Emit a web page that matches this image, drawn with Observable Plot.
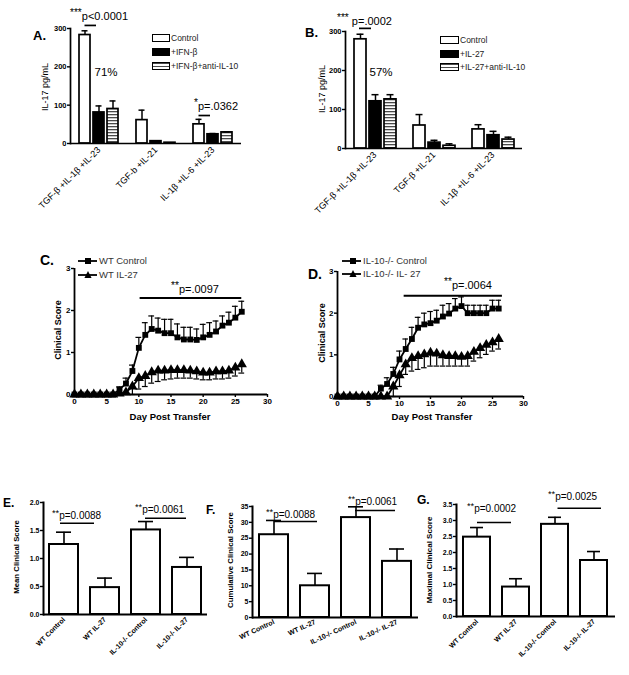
<!DOCTYPE html>
<html><head><meta charset="utf-8">
<script src="https://cdn.jsdelivr.net/npm/d3@7"></script>
<script src="https://cdn.jsdelivr.net/npm/@observablehq/plot@0.6"></script>
<style>
body{margin:0;background:#fff;font-family:"Liberation Sans",Arial,sans-serif;}
#page{position:relative;width:629px;height:675px;overflow:hidden;background:#fff;}
.abs{position:absolute;white-space:nowrap;line-height:1;color:#000;}
.ytitle{position:absolute;white-space:nowrap;line-height:1;transform:translate(-50%,-50%) rotate(-90deg);}
.sw{position:absolute;box-sizing:border-box;border:1.5px solid #000;}
</style></head><body>
<svg width="0" height="0" style="position:absolute"><defs>
<pattern id="hstripes" patternUnits="userSpaceOnUse" width="6" height="3"><rect width="6" height="3" fill="#fff"/><rect width="6" height="1.3" fill="#4a4a4a"/></pattern>
</defs></svg>
<div id="page"></div>
<script>
// ---------- DATA ----------
// Panel A
const groupsA = ["TGF-β +IL-1β +IL-23", "TGF-b +IL-21", "IL-1β +IL-6 +IL-23"];
const seriesA = ["Control", "+IFN-β", "+IFN-β+anti-IL-10"];
const controlA = [283, 61, 50];
const ifnA = [81, 6, 24];
const ifnAntiA = [90, 2, 29];
const controlASem = [11, 26, 13];
const ifnASem = [17, 1, 2];
const ifnAntiASem = [21, 0, 1];
// Panel B
const groupsB = ["TGF-β +IL-1β +IL-23", "TGF-β +IL-21", "IL-1β +IL-6 +IL-23"];
const seriesB = ["Control", "+IL-27", "+IL-27+anti-IL-10"];
const controlB = [280, 59, 49];
const il27B = [121, 15, 34];
const il27AntiB = [126, 7, 23];
const controlBSem = [13, 28, 12];
const il27BSem = [17, 6, 10];
const il27AntiBSem = [12, 5, 6];
// Panels C, D
const days = [0,1,2,3,4,5,6,7,8,9,10,11,12,13,14,15,16,17,18,19,20,21,22,23,24,25,26];
const wtControl = [0,0,0,0,0,0,0,0.12,0.26,0.56,1.11,1.42,1.56,1.52,1.46,1.46,1.36,1.31,1.31,1.30,1.36,1.42,1.50,1.64,1.71,1.83,1.97];
const wtControlSem = [0,0,0,0,0,0,0,0.06,0.13,0.14,0.25,0.29,0.31,0.30,0.33,0.33,0.32,0.29,0.29,0.26,0.31,0.29,0.25,0.23,0.25,0.27,0.25];
const wtIL27 = [0,0,0,0,0,0,0,0.02,0.05,0.19,0.39,0.44,0.53,0.57,0.57,0.58,0.58,0.58,0.57,0.55,0.52,0.52,0.55,0.55,0.57,0.64,0.72];
const wtIL27Sem = [0,0,0,0,0,0,0,0.02,0.05,0.19,0.26,0.25,0.26,0.26,0.22,0.21,0.19,0.19,0.18,0.18,0.17,0.17,0.18,0.18,0.18,0.20,0.21];
const koControl = [0,0,0,0,0,0,0,0.19,0.30,0.54,0.89,1.14,1.38,1.65,1.73,1.76,1.82,1.92,1.99,2.11,2.17,2.00,2.00,2.00,2.00,2.11,2.11];
const koControlSem = [0,0,0,0,0,0,0,0.08,0.15,0.16,0.20,0.24,0.28,0.25,0.27,0.28,0.25,0.27,0.24,0.24,0.22,0.19,0.19,0.19,0.19,0.20,0.20];
const koIL27 = [0,0,0,0,0,0,0,0,0,0.24,0.51,0.77,0.92,0.97,1.01,1.05,1.03,0.99,0.97,0.97,0.95,0.97,1.07,1.16,1.24,1.30,1.38];
const koIL27Sem = [0,0,0,0,0,0,0,0,0,0.24,0.27,0.24,0.31,0.32,0.32,0.32,0.30,0.26,0.24,0.24,0.22,0.24,0.22,0.23,0.23,0.21,0.24];
const legendC = ["WT Control", "WT IL-27"];
const legendD = ["IL-10-/- Control", "IL-10-/- IL- 27"];
// Panels E, F, G
const groupsEFG = ["WT Control", "WT IL-27", "IL-10-/- Control", "IL-10-/- IL-27"];
const meanScore = [1.25, 0.48, 1.51, 0.84];
const meanScoreSem = [0.22, 0.17, 0.15, 0.18];
const cumScore = [26.1, 10.0, 31.5, 17.7];
const cumScoreSem = [4.5, 3.9, 3.4, 3.9];
const maxScore = [2.48, 0.92, 2.88, 1.75];
const maxScoreSem = [0.30, 0.26, 0.22, 0.28];
// Significance bars (data units)
const sigA = [{group: groupsA[0], x1: seriesA[0], x2: seriesA[1], y: 308}, {group: groupsA[2], x1: seriesA[0], x2: seriesA[1], y: 73}];
const sigB = [{group: groupsB[0], x1: seriesB[0], x2: seriesB[1], y: 308}];
const sigC = [{x1: 10.2, x2: 26, y: 2.3}];
const sigD = [{x1: 10.75, x2: 26.6, y: 2.42}];
const sigE = [{x1: groupsEFG[0], x2: groupsEFG[1], y: 1.63}, {x1: groupsEFG[2], x2: groupsEFG[3], y: 1.72}];
const sigF = [{x1: groupsEFG[0], x2: groupsEFG[1], y: 30.3}, {x1: groupsEFG[2], x2: groupsEFG[3], y: 33.7}];
const sigG = [{x1: groupsEFG[0], x2: groupsEFG[1], y: 2.94}, {x1: groupsEFG[2], x2: groupsEFG[3], y: 3.38}];

// ---------- HELPERS ----------
const FONT = "'Liberation Sans', Arial, sans-serif";
const page = document.getElementById("page");
function place(svg, ox, oy){ svg.style.position="absolute"; svg.style.left=ox+"px"; svg.style.top=oy+"px"; page.appendChild(svg); }
function addText(html, x, cy, size, opts={}){
  const el = document.createElement("div");
  el.className = "abs"; el.innerHTML = html;
  el.style.fontSize = size+"px"; el.style.left = x+"px"; el.style.top = (cy - size/2)+"px";
  if (opts.anchor === "middle") el.style.transform = "translateX(-50%)";
  el.style.fontWeight = opts.weight || "normal"; el.style.color = opts.color || "#000";
  page.appendChild(el);
}
function addYTitle(text, cx, cy, size, weight){
  const el = document.createElement("div");
  el.className = "ytitle"; el.textContent = text;
  el.style.fontSize = size+"px"; el.style.left = cx+"px"; el.style.top = cy+"px"; el.style.fontWeight = weight || "normal";
  page.appendChild(el);
}
const stars = (s) => `<span style="font-size:0.92em;position:relative;top:-0.3em">${s}</span>`;

// ---------- BAR PANELS A / B ----------
function groupedPanel(cfg){
  const {groups, series, cols, sems, ox, oy, L, T, R, B, mr, mb, sig, sigInset} = cfg;
  const rows = groups.flatMap((g,i) => series.map((s,j) => ({group: g, series: s, value: cols[j][i], sem: sems[j][i]})));
  const fills = ["#fff", "#000", "url(#hstripes)"];
  const err = rows.filter(d => d.sem > 0);
  const chart = Plot.plot({
    width: R - ox + mr, height: B - oy + mb,
    marginLeft: L - ox, marginTop: T - oy, marginRight: mr, marginBottom: mb,
    style: {fontFamily: FONT, background: "transparent", overflow: "visible"},
    fx: {domain: groups, padding: 0},
    x: {domain: series, paddingInner: 0.22, paddingOuter: 0.55, axis: null},
    y: {domain: [0, 300]},
    marks: [
      ...series.map((s,j) => Plot.barY(rows, {filter: d => d.series === s, fx: "group", x: "series", y: "value", fill: fills[j], stroke: "#000", strokeWidth: 1.7})),
      Plot.ruleX(err, {fx: "group", x: "series", y1: "value", y2: d => d.value + d.sem, strokeWidth: 1.5}),
      Plot.tickY(err, {fx: "group", x: "series", y: d => d.value + d.sem, inset: 2.5, strokeWidth: 1.5}),
      Plot.ruleY([0], {strokeWidth: 1.7}),
      Plot.frame({anchor: "left", facetAnchor: "left", strokeWidth: 1.7}),
      Plot.ruleY(sig, {fx: "group", x1: "x1", x2: "x2", y: "y", insetLeft: sigInset[0], insetRight: sigInset[1], strokeWidth: 1.7}),
      Plot.axisY({ticks: [0,100,200,300], tickFormat: d3.format("d"), tickSize: 3, tickPadding: 1, fontSize: 7.5, fontWeight: "bold", label: null, strokeWidth: 1.4}),
      Plot.axisFx({anchor: "bottom", tickRotate: -45, tickSize: 0, tickPadding: 5, fontSize: 9, label: null})
    ]
  });
  place(chart, ox, oy);
}

groupedPanel({groups: groupsA, series: seriesA, cols: [controlA, ifnA, ifnAntiA], sems: [controlASem, ifnASem, ifnAntiASem],
  ox: 0, oy: 0, L: 69, T: 28, R: 242, B: 143, mr: 8, mb: 95, sig: sigA, sigInset: [5.5, 8]});
groupedPanel({groups: groupsB, series: seriesB, cols: [controlB, il27B, il27AntiB], sems: [controlBSem, il27BSem, il27AntiBSem],
  ox: 300, oy: 0, L: 345, T: 31, R: 522, B: 148, mr: 8, mb: 95, sig: sigB, sigInset: [5, 10]});

// legends A/B
function barLegend(labels, x, ys, w){
  const bgs = ["#fff", "#000", "repeating-linear-gradient(to bottom,#4a4a4a 0 1.2px,#fff 1.2px 3px)"];
  labels.forEach((lab,i) => {
    const sw = document.createElement("div"); sw.className = "sw";
    sw.style.left = x+"px"; sw.style.top = (ys[i]-4)+"px"; sw.style.width = w+"px"; sw.style.height = "8px"; sw.style.background = bgs[i];
    page.appendChild(sw);
    addText(lab, x + w + 1, ys[i], 8.5, {color: "#222"});
  });
}
barLegend(seriesA, 152, [38, 52, 66], 18);
barLegend(seriesB, 440, [40, 54, 67], 19);

addText(stars("***") + "p&lt;0.0001", 70, 16, 11);
addText("71%", 106, 73, 11.5, {anchor: "middle"});
addText(stars("*") + "p=.0362", 194, 106, 11);
addText(stars("***") + " p=.0002", 337, 21, 11);
addText("57%", 381, 73, 11.5, {anchor: "middle"});
addYTitle("IL-17 pg/mL", 45, 87, 9);
addYTitle("IL-17 pg/mL", 322, 89, 9);

// ---------- LINE PANELS C / D ----------
function linePanel(cfg){
  const {ctrl, ctrlSem, trt, trtSem, ox, oy, L, T, R, B, mr, mb, sig} = cfg;
  const rc = days.map((d,i) => ({day: d, v: ctrl[i], e: ctrl[i] + ctrlSem[i], s: ctrlSem[i]}));
  const rt = days.map((d,i) => ({day: d, v: trt[i], e: trt[i] - trtSem[i], s: trtSem[i]}));
  const ec = rc.filter(d => d.s > 0), et = rt.filter(d => d.s > 0);
  const capW = 0.45;
  const chart = Plot.plot({
    width: R - ox + mr, height: B - oy + mb,
    marginLeft: L - ox, marginTop: T - oy, marginRight: mr, marginBottom: mb,
    style: {fontFamily: FONT, background: "transparent", overflow: "visible"},
    x: {domain: [0, 30]}, y: {domain: [0, 3]},
    marks: [
      Plot.ruleX(ec, {x: "day", y1: "v", y2: "e", strokeWidth: 1.2}),
      Plot.ruleY(ec, {x1: d => d.day - capW, x2: d => d.day + capW, y: "e", strokeWidth: 1.2}),
      Plot.ruleX(et, {x: "day", y1: "v", y2: "e", strokeWidth: 1.2}),
      Plot.ruleY(et, {x1: d => d.day - capW, x2: d => d.day + capW, y: "e", strokeWidth: 1.2}),
      Plot.line(rc, {x: "day", y: "v", strokeWidth: 1.8}),
      Plot.line(rt, {x: "day", y: "v", strokeWidth: 1.8}),
      Plot.dot(rc, {x: "day", y: "v", symbol: "square", r: 3.3, fill: "#000", stroke: "none"}),
      Plot.dot(rt, {x: "day", y: "v", symbol: "triangle", r: 3.8, fill: "#000", stroke: "none"}),
      Plot.ruleX([0], {strokeWidth: 1.8}),
      Plot.ruleY([0], {strokeWidth: 1.8}),
      Plot.ruleY(sig, {x1: "x1", x2: "x2", y: "y", strokeWidth: 2}),
      Plot.axisX({ticks: [0,5,10,15,20,25,30], tickFormat: d3.format("d"), tickSize: 3, tickPadding: 1, fontSize: 8, fontWeight: "bold", label: null, strokeWidth: 1.4}),
      Plot.axisY({ticks: [0,1,2,3], tickFormat: d3.format("d"), tickSize: 3, tickPadding: 1, fontSize: 8, fontWeight: "bold", label: null, strokeWidth: 1.4})
    ]
  });
  place(chart, ox, oy);
}
linePanel({ctrl: wtControl, ctrlSem: wtControlSem, trt: wtIL27, trtSem: wtIL27Sem, ox: 0, oy: 245, L: 74, T: 268, R: 267, B: 394, mr: 10, mb: 30, sig: sigC});
linePanel({ctrl: koControl, ctrlSem: koControlSem, trt: koIL27, trtSem: koIL27Sem, ox: 300, oy: 245, L: 337, T: 271, R: 523, B: 396, mr: 10, mb: 30, sig: sigD});

function lineLegend(labels, x0, x1, mx, ys){
  const shapes = [
    `<rect x="${mx-3}" y="4" width="6" height="6" fill="#000"/>`,
    `<path d="M${mx},3 L${mx+3.6},10 L${mx-3.6},10 Z" fill="#000"/>`
  ];
  labels.forEach((lab,i) => {
    const svg = document.createElementNS("http://www.w3.org/2000/svg","svg");
    svg.setAttribute("width", x1 - x0 + 2); svg.setAttribute("height", 14);
    svg.style.position = "absolute"; svg.style.left = x0+"px"; svg.style.top = (ys[i]-7)+"px";
    svg.innerHTML = `<line x1="0" x2="${x1-x0}" y1="7" y2="7" stroke="#000" stroke-width="1.8"/>` + shapes[i];
    page.appendChild(svg);
    addText(lab, x1 + 2, ys[i], 9.5, {color: "#333"});
  });
}
lineLegend(legendC, 78, 97, 10, [261, 275]);
lineLegend(legendD, 342, 361, 11, [261, 274]);
addText(stars("**") + "p=.0097", 195, 289, 11, {anchor: "middle"});
addText(stars("**") + "p=.0064", 468, 285, 11, {anchor: "middle"});
addYTitle("Clinical Score", 58, 330, 9, "bold");
addYTitle("Clinical Score", 322, 333, 9, "bold");
addText("Day Post Transfer", 170, 417, 9.5, {anchor: "middle", weight: "bold"});
addText("Day Post Transfer", 432, 417, 9.5, {anchor: "middle", weight: "bold"});

// ---------- SCORE PANELS E / F / G ----------
function scorePanel(cfg){
  const {vals, sems, ox, oy, L, T, R, B, mr, mb, ymax, yticks, fmt, rotate, sig, insets} = cfg;
  const rows = groupsEFG.map((g,i) => ({cat: g, v: vals[i], e: vals[i] + sems[i]}));
  const chart = Plot.plot({
    width: R - ox + mr, height: B - oy + mb,
    marginLeft: L - ox, marginTop: T - oy, marginRight: mr, marginBottom: mb,
    style: {fontFamily: FONT, background: "transparent", overflow: "visible"},
    x: {domain: groupsEFG, paddingInner: 0.3, paddingOuter: 0.15},
    y: {domain: [0, ymax]},
    marks: [
      Plot.ruleX(rows, {x: "cat", y1: "v", y2: "e", strokeWidth: 1.6}),
      Plot.tickY(rows, {x: "cat", y: "e", inset: 7, strokeWidth: 1.6}),
      Plot.barY(rows, {x: "cat", y: "v", fill: "#fff", stroke: "#000", strokeWidth: 2}),
      Plot.ruleY([0], {strokeWidth: 2}),
      Plot.frame({anchor: "left", strokeWidth: 2}),
      ...sig.map((s,i) => Plot.ruleY([s], {x1: "x1", x2: "x2", y: "y", insetLeft: insets[i][0], insetRight: insets[i][1], strokeWidth: 1.5})),
      Plot.axisY({ticks: yticks, tickFormat: fmt, tickSize: 3, tickPadding: 1, fontSize: 7, fontWeight: "bold", label: null, strokeWidth: 1.4}),
      Plot.axisX({tickRotate: rotate, tickSize: 0, tickPadding: 4, fontSize: 7, fontWeight: "bold", label: null})
    ]
  });
  place(chart, ox, oy);
}
scorePanel({vals: meanScore, sems: meanScoreSem, ox: 0, oy: 480, L: 43, T: 502, R: 207, B: 614, mr: 4, mb: 58,
  ymax: 2, yticks: [0,0.5,1,1.5,2], fmt: d3.format(".1f"), rotate: -45, sig: sigE, insets: [[11,25],[14,15]]});
scorePanel({vals: cumScore, sems: cumScoreSem, ox: 210, oy: 480, L: 252, T: 506, R: 418, B: 617, mr: 4, mb: 55,
  ymax: 35, yticks: [0,5,10,15,20,25,30,35], fmt: d3.format("d"), rotate: -25, sig: sigF, insets: [[15,12],[14,16]]});
scorePanel({vals: maxScore, sems: maxScoreSem, ox: 415, oy: 480, L: 456, T: 504, R: 615, B: 616, mr: 4, mb: 58,
  ymax: 3.5, yticks: [0,0.5,1,1.5,2,2.5,3,3.5], fmt: d3.format(".1f"), rotate: -45, sig: sigG, insets: [[14,18],[16.5,6]]});

addText(stars("**") + "p=0.0088", 52, 516, 10);
addText(stars("**") + "p=0.0061", 135, 510, 10);
addText(stars("**") + "p=0.0088", 266, 515, 10);
addText(stars("**") + "p=0.0061", 348, 502, 10);
addText(stars("**") + "p=0.0002", 467, 509, 10);
addText(stars("**") + "p=0.0025", 548, 497, 10);
addYTitle("Mean Clinical Score", 17, 557, 7.8, "bold");
addYTitle("Cumulative Clinical Score", 231, 560, 7.8, "bold");
addYTitle("Maximal Clinical Score", 430, 560, 8, "bold");

// ---------- PANEL LETTERS ----------
addText("A.", 33, 35, 13, {weight: "bold"});
addText("B.", 305, 32, 13, {weight: "bold"});
addText("C.", 40, 260, 14, {weight: "bold"});
addText("D.", 308, 274, 14, {weight: "bold"});
addText("E.", 3, 503, 12, {weight: "bold"});
addText("F.", 206, 510, 12, {weight: "bold"});
addText("G.", 417, 500, 12, {weight: "bold"});
</script>
</body></html>
